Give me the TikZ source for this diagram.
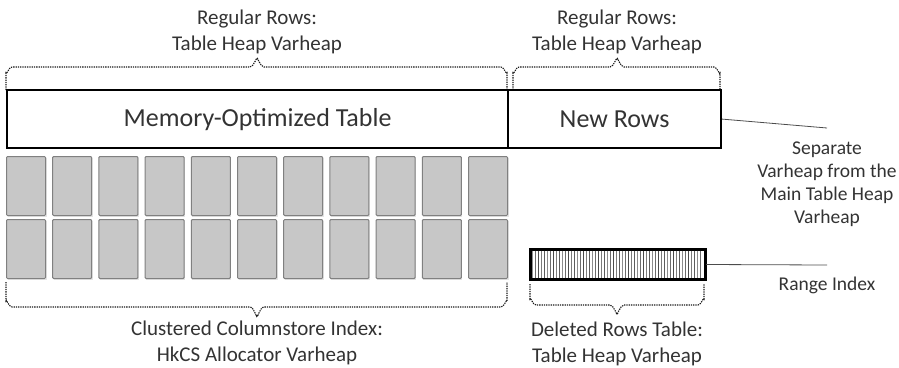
\documentclass[tikz,border=0pt]{standalone}
\usepackage{fontspec}
\setmainfont{Carlito}
\begin{document}
\begin{tikzpicture}[x=1pt,y=-1pt,
  txt/.style={text=black!80, align=center, font=\fontsize{21}{25.5}\selectfont, inner sep=0pt},
  bigtxt/.style={text=black!80, font=\fontsize{26}{30}\selectfont, inner sep=0pt},
  sidetxt/.style={text=black!80, align=center, font=\fontsize{19.5}{23}\selectfont, inner sep=0pt},
  mainbox/.style={draw=black, line width=2.2pt, fill=white},
  seg/.style={draw=black!50, line width=1pt, fill=black!22, rounded corners=1pt},
  brace/.style={draw=black!90, line width=1.1pt, dash pattern=on 1.3pt off 1pt},
  leader/.style={draw=black!70, line width=0.8pt}]
\useasboundingbox (0,0) rectangle (899,367);

% top labels
\node[txt] (lblA) at (257,32) {Regular Rows:\\Table Heap Varheap};
\node[txt] (lblB) at (617,32) {Regular Rows:\\Table Heap Varheap};

% top braces
\draw[brace] (6,90) -- (6,73) to[out=-90,in=180] (12,67) -- (250,67) to[out=0,in=90] (257,59) to[out=90,in=180] (264,67) -- (501,67) to[out=0,in=-90] (507,73) -- (507,90);
\draw[brace] (513,90) -- (513,73) to[out=-90,in=180] (519,67) -- (610,67) to[out=0,in=90] (617,59) to[out=90,in=180] (624,67) -- (714,67) to[out=0,in=-90] (720,73) -- (720,90);

% main boxes
\node[mainbox, minimum width=501pt, minimum height=58pt, anchor=north west] (mot) at (6,89) {};
\node[bigtxt] at (mot.center) {Memory-Optimized Table};
\node[mainbox, minimum width=213pt, minimum height=58pt, anchor=north west] (newrows) at (507,89) {};
\node[bigtxt] at (newrows.center) {New Rows};

% column segments (with soft shadow)
\foreach \i in {0,...,10} {
  \fill[black!10] ({6+46.2*\i+1.5},157.5) rectangle ({6+46.2*\i+40.5},216.5);
  \fill[black!10] ({6+46.2*\i+1.5},220.5) rectangle ({6+46.2*\i+40.5},279.5);
  \node[seg, minimum width=39pt, minimum height=59pt, anchor=north west, inner sep=0pt] (segA\i) at ({6+46.2*\i},156) {};
  \node[seg, minimum width=39pt, minimum height=59pt, anchor=north west, inner sep=0pt] (segB\i) at ({6+46.2*\i},219) {};
}

% bottom brace for columnstore
\draw[brace] (6,282) -- (6,301) to[out=90,in=180] (12,307) -- (250,307) to[out=0,in=-90] (257,316) to[out=-90,in=180] (264,307) -- (501,307) to[out=0,in=90] (507,301) -- (507,282);
\node[txt] (lblC) at (257,343) {Clustered Columnstore Index:\\HkCS Allocator Varheap};

% range index bar
\node[draw=black, line width=2pt, minimum width=174pt, minimum height=29pt, anchor=north west, inner sep=0pt, fill=white] (rng) at (530,249) {};
\foreach \k in {0,...,56} {
  \pgfmathsetmacro{\gv}{45+25*mod(\k*7,5)/4}
  \draw[black!\gv, line width=1.1pt] ({532.5+3*\k},250.5) -- ({532.5+3*\k},277.5);
}
\draw[black, line width=2pt] (rng.north west) rectangle (rng.south east);

% bottom brace for deleted rows
\draw[brace] (530,284) -- (530,299) to[out=90,in=180] (536,305) -- (610,305) to[out=0,in=-90] (617,313) to[out=-90,in=180] (624,305) -- (698,305) to[out=0,in=90] (704,299) -- (704,284);
\node[txt] (lblD) at (617,344) {Deleted Rows Table:\\Table Heap Varheap};

% side notes
\node[sidetxt] (sep) at (827,184) {Separate\\Varheap from the\\Main Table Heap\\Varheap};
\coordinate (sepend) at (827,128);
\draw[leader] (newrows.east) -- (sepend);
\node[sidetxt] (rix) at (827,285) {Range Index};
\coordinate (rixend) at (827,265);
\draw[leader] (rng.east) -- (rixend);
\end{tikzpicture}
\end{document}
